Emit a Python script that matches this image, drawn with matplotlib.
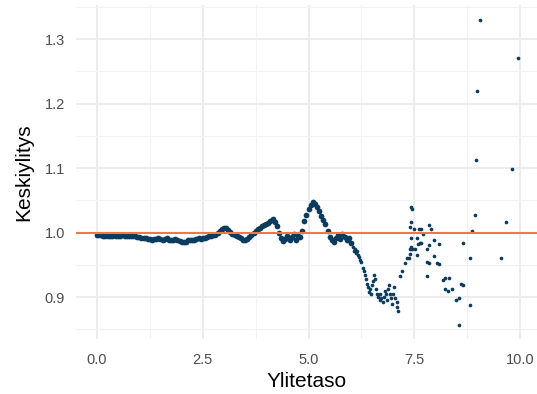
import matplotlib
matplotlib.use("Agg")
import matplotlib.pyplot as plt
import numpy as np

# Dense part of the mean excess curve (threshold, mean excess)
dense_x = [round(0.05 * i, 2) for i in range(121)]
dense_y = [0.997, 0.996, 0.996, 0.995, 0.995, 0.995, 0.994, 0.995, 0.996, 0.995,
           0.995, 0.995, 0.996, 0.995, 0.995, 0.994, 0.995, 0.994, 0.994, 0.993,
           0.993, 0.992, 0.991, 0.991, 0.990, 0.990, 0.989, 0.990, 0.990, 0.991,
           0.990, 0.989, 0.990, 0.991, 0.989, 0.988, 0.989, 0.990, 0.988, 0.987,
           0.986, 0.985, 0.986, 0.988, 0.989, 0.988, 0.989, 0.990, 0.991, 0.990,
           0.991, 0.992, 0.993, 0.994, 0.995, 0.996, 0.997, 0.999, 1.003, 1.006,
           1.007, 1.007, 1.004, 1.001, 0.998, 0.996, 0.994, 0.993, 0.991, 0.989,
           0.988, 0.990, 0.993, 0.996, 1.000, 1.003, 1.005, 1.007, 1.010, 1.012,
           1.013, 1.015, 1.018, 1.021, 1.017, 1.010, 1.000, 0.991, 0.987, 0.990,
           0.995, 0.988, 0.993, 0.998, 0.989, 0.995, 0.993, 1.003, 1.018, 1.028,
           1.036, 1.043, 1.047, 1.045, 1.040, 1.033, 1.026, 1.020, 1.013, 1.002,
           0.993, 0.988, 0.986, 0.992, 0.996, 0.990, 0.998, 0.993, 0.988, 0.992,
           0.984]

# Sparser tail points
tail_x = [6.05, 6.08, 6.10, 6.12, 6.15, 6.18, 6.20, 6.22, 6.25, 6.28, 6.30, 6.33,
          6.35, 6.38, 6.40, 6.42, 6.45, 6.47, 6.50, 6.52, 6.55, 6.57, 6.60, 6.62,
          6.65, 6.68, 6.70, 6.72, 6.75, 6.78, 6.80, 6.83, 6.85, 6.88, 6.90, 6.93,
          6.95, 6.98, 7.00, 7.02, 7.05, 7.08, 7.10, 7.12, 7.16, 7.21, 7.28, 7.33,
          7.38, 7.40, 7.45, 7.45, 7.42, 7.42, 7.40, 7.42, 7.42, 7.52, 7.57, 7.49,
          7.61, 7.66, 7.71, 7.64, 7.57, 7.59, 7.66, 7.40, 7.80, 7.80, 7.85, 7.80,
          7.85, 7.97, 8.09, 7.85, 7.90, 8.04, 8.09, 7.97, 8.18, 8.23, 8.32, 8.23,
          8.30, 8.39, 8.49, 8.56, 8.56, 8.61, 8.66, 8.66, 8.82, 8.82, 8.87, 8.94,
          8.96, 8.98, 9.05, 9.55, 9.67, 9.81, 9.95]
tail_y = [0.978, 0.972, 0.975, 0.968, 0.971, 0.965, 0.962, 0.958, 0.955, 0.945, 0.940, 0.935,
          0.928, 0.920, 0.915, 0.908, 0.913, 0.905, 0.918, 0.925, 0.935, 0.928, 0.912, 0.905,
          0.900, 0.895, 0.905, 0.898, 0.892, 0.900, 0.910, 0.905, 0.895, 0.912, 0.918, 0.905,
          0.898, 0.890, 0.905, 0.915, 0.898, 0.885, 0.892, 0.878, 0.933, 0.941, 0.953, 0.961,
          0.960, 0.967, 0.975, 1.037, 1.039, 1.016, 1.008, 0.991, 0.977, 0.975, 0.991, 1.005,
          1.006, 1.005, 0.998, 0.984, 0.966, 0.983, 0.984, 0.975, 0.932, 0.955, 0.953, 0.974,
          0.981, 0.989, 0.983, 1.012, 1.006, 0.953, 0.952, 0.964, 0.927, 0.929, 0.929, 0.913,
          0.909, 0.912, 0.895, 0.899, 0.857, 0.921, 0.918, 0.984, 0.961, 0.888, 1.003, 1.028,
          1.112, 1.220, 1.329, 0.960, 1.016, 1.099, 1.271]

ref_level = 1.0
x_ticks = [0.0, 2.5, 5.0, 7.5, 10.0]
x_tick_labels = ["0.0", "2.5", "5.0", "7.5", "10.0"]
y_ticks = [0.9, 1.0, 1.1, 1.2, 1.3]
y_tick_labels = ["0.9", "1.0", "1.1", "1.2", "1.3"]

plt.rcParams['font.family'] = ['Liberation Sans', 'DejaVu Sans']

fig = plt.figure(figsize=(5.37, 3.94), dpi=100)
ax = fig.add_axes([76/537, 1 - 339/394, 1 - 76/537, (339 - 5)/394])

point_color = '#0b3c5d'
ax.scatter(dense_x, dense_y, s=17, color=point_color, linewidths=0, zorder=3)
ax.scatter(tail_x, tail_y, s=7, color=point_color, linewidths=0, zorder=3)
ax.axhline(ref_level, color='#f07a3e', lw=1.5, zorder=4)

ax.set_xlim(-0.497, 10.40)
ax.set_ylim(0.835, 1.353)
ax.set_xticks(x_ticks)
ax.set_xticklabels(x_tick_labels)
ax.set_yticks(y_ticks)
ax.set_yticklabels(y_tick_labels)
ax.set_xticks([1.25, 3.75, 6.25, 8.75], minor=True)
ax.set_yticks([0.85, 0.95, 1.05, 1.15, 1.25, 1.35], minor=True)

ax.grid(which='major', color='#ebebeb', lw=1.3, zorder=0)
ax.grid(which='minor', color='#f2f2f2', lw=0.8, zorder=0)
ax.set_axisbelow(True)
for s in ax.spines.values():
    s.set_visible(False)
ax.tick_params(which='both', length=0)
ax.tick_params(axis='x', pad=10, labelsize=10.5, labelcolor='#4d4d4d')
ax.tick_params(axis='y', pad=8, labelsize=10.5, labelcolor='#4d4d4d')

ax.set_xlabel("Ylitetaso", fontsize=15, labelpad=4)
ax.set_ylabel("Keskiylitys", fontsize=15, labelpad=8)

fig.savefig("out.png", dpi=100)
